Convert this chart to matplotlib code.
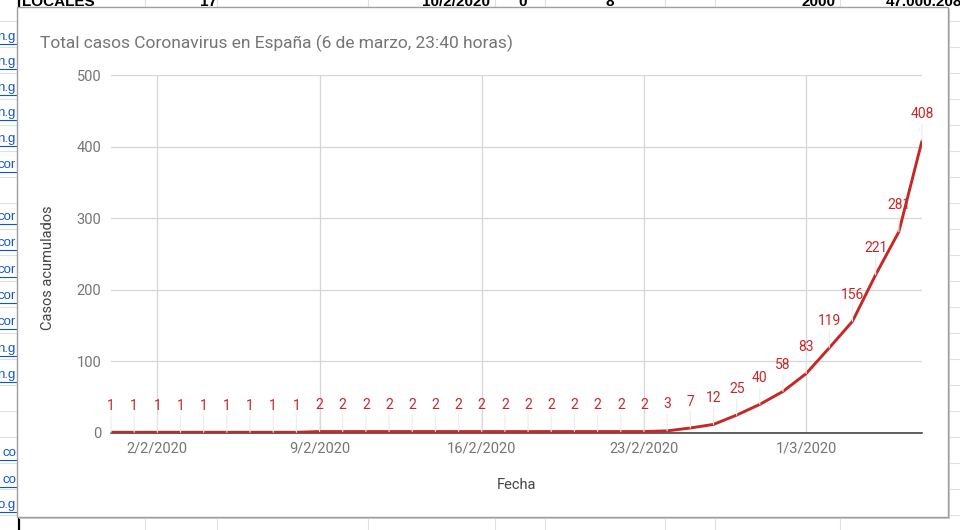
import matplotlib

matplotlib.use("Agg")

import datetime as dt
import matplotlib.pyplot as plt
from matplotlib.patches import Rectangle

plt.rcParams["font.family"] = ["Roboto", "DejaVu Sans"]

# cumulative cases, one value per day from 31/1/2020 to 6/3/2020
start_date = dt.date(2020, 1, 31)
cases = [1, 1, 1, 1, 1, 1, 1, 1, 1,
         2, 2, 2, 2, 2, 2, 2, 2, 2, 2, 2, 2, 2, 2, 2,
         3, 7, 12, 25, 40, 58, 83, 119, 156, 221, 281, 408]
dates = [start_date + dt.timedelta(days=i) for i in range(len(cases))]

tick_dates = [dt.date(2020, 2, 2), dt.date(2020, 2, 9), dt.date(2020, 2, 16),
              dt.date(2020, 2, 23), dt.date(2020, 3, 1)]
tick_labels = ["2/2/2020", "9/2/2020", "16/2/2020", "23/2/2020", "1/3/2020"]
y_ticks = [0, 100, 200, 300, 400, 500]

title = "Total casos Coronavirus en España (6 de marzo, 23:40 horas)"

RED = "#c62828"
GREY_TXT = "#757575"
GRID = "#d6d6d6"

W, H = 960, 530
fig = plt.figure(figsize=(W / 100, H / 100), dpi=100, facecolor="white")

# --- spreadsheet behind the chart card (pixel coordinates) ---
bg = fig.add_axes([0, 0, 1, 1], zorder=0)
bg.set_xlim(0, W)
bg.set_ylim(H, 0)
bg.axis("off")

for y in range(21, H, 26):
    bg.plot([0, 17], [y, y], color="#e0e0e0", lw=0.8)
    bg.plot([948, W], [y, y], color="#e0e0e0", lw=0.8)
for x in [145, 217, 368, 495, 545, 665, 715, 840]:
    bg.plot([x, x], [0, 8], color="#e0e0e0", lw=0.8)
    bg.plot([x, x], [516, H], color="#e0e0e0", lw=0.8)
bg.plot([19, 19], [0, 8], color="black", lw=1.6)
bg.plot([19, 19], [516, H], color="black", lw=1.6)

link_rows = [(37, "n.g"), (62, "n.g"), (88, "n.g"), (113, "n.g"), (139, "n.g"),
             (165, "cor"), (217, "cor"), (243, "cor"), (270, "cor"), (296, "cor"),
             (322, "cor"), (349, "n.g"), (375, "n.g"), (453, "co"), (480, "co"),
             (505, "o.g")]
for y, s in link_rows:
    bg.text(16, y, s, color="#1155cc", fontsize=9.5, ha="right", va="center",
            family=["Liberation Sans"])
    bg.plot([0, 17], [y + 7, y + 7], color="#1155cc", lw=0.8)

top_cells = [(22, "LOCALES", "left"), (200, "17", "left"), (490, "10/2/2020", "right"),
             (518, "0", "left"), (605, "8", "left"), (835, "2000", "right"),
             (962, "47.000.208", "right")]
for x, s, ha in top_cells:
    bg.text(x, 2, s, color="black", fontsize=11, fontweight="bold", ha=ha,
            va="center", family=["Liberation Sans"])

# card with soft shadow
bg.add_patch(Rectangle((19, 9), 931, 510, facecolor="#cfcfcf", edgecolor="none", zorder=4))
bg.add_patch(Rectangle((17, 7), 931, 510, facecolor="white", edgecolor="#9e9e9e",
                       lw=1.0, zorder=5))

# --- chart ---
left, right, top, bottom = 111, 922, 75, 433
ax = fig.add_axes([left / W, (H - bottom) / H, (right - left) / W, (bottom - top) / H],
                  zorder=10)
ax.set_facecolor("none")

ax.plot(dates, cases, color=RED, lw=2.1, zorder=3, solid_capstyle="round")

for d, v in zip(dates, cases):
    ax.annotate(str(v), (d, v), xytext=(0, 14), textcoords="offset points",
                ha="center", va="bottom", color=RED, fontsize=10,
                arrowprops=dict(arrowstyle="-", color="#ececec", lw=0.8,
                                shrinkA=0, shrinkB=0))

ax.set_xlim(dates[0], dates[-1])
ax.set_ylim(0, 500)
ax.set_xticks(tick_dates)
ax.set_xticklabels(tick_labels)
ax.set_yticks(y_ticks)
ax.set_yticklabels([str(t) for t in y_ticks])
ax.tick_params(length=0, colors=GREY_TXT, labelsize=10.5)
ax.tick_params(axis="y", pad=7)
ax.tick_params(axis="x", pad=6)
ax.grid(True, color=GRID, lw=0.9)
ax.set_axisbelow(True)
for name, spine in ax.spines.items():
    spine.set_visible(name == "bottom")
ax.spines["bottom"].set_color("#333333")
ax.spines["bottom"].set_linewidth(1.1)
ax.spines["bottom"].set_zorder(2)

fig.text(40 / W, 1 - 43 / H, title, color=GREY_TXT, fontsize=12.5, ha="left",
         va="center", zorder=11)
fig.text(48 / W, 1 - 268 / H, "Casos acumulados", color="#444444", fontsize=10.5,
         rotation=90, ha="center", va="center", zorder=11)
fig.text(517 / W, 1 - 485 / H, "Fecha", color="#444444", fontsize=10.5,
         ha="center", va="center", zorder=11)

fig.savefig("out.png", dpi=100, facecolor="white")
